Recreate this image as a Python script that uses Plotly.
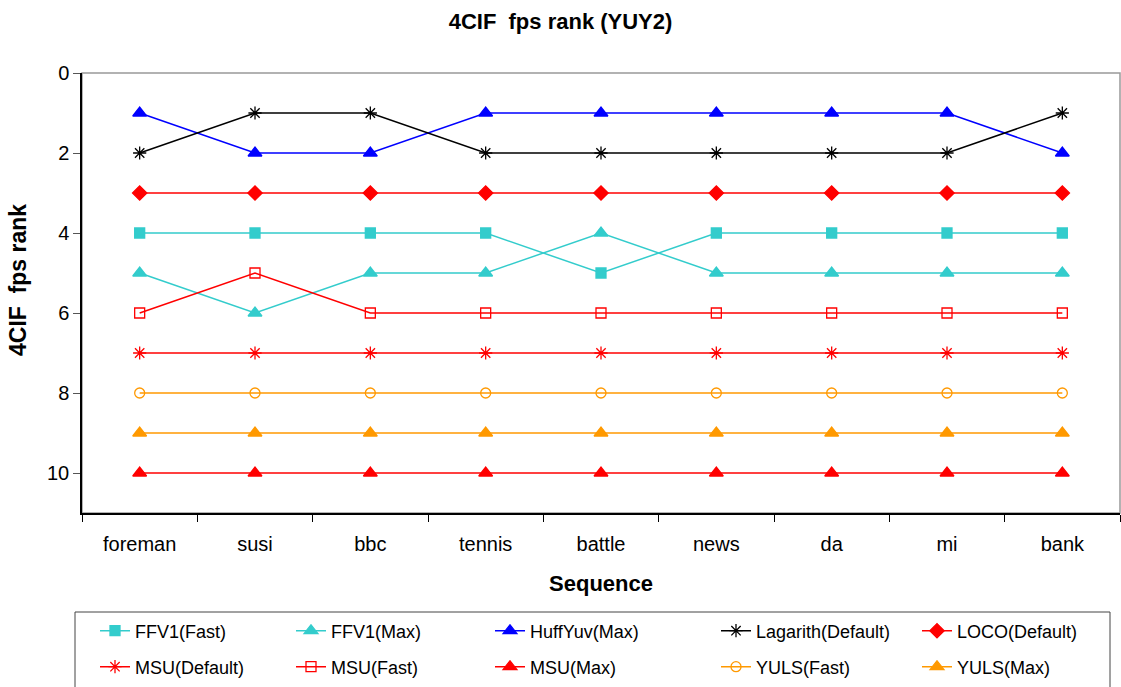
import plotly.graph_objects as go

categories = ["foreman", "susi", "bbc", "tennis", "battle", "news", "da", "mi", "bank"]

ffv1_fast = [4, 4, 4, 4, 5, 4, 4, 4, 4]
ffv1_max = [5, 6, 5, 5, 4, 5, 5, 5, 5]
huffyuv_max = [1, 2, 2, 1, 1, 1, 1, 1, 2]
lagarith_default = [2, 1, 1, 2, 2, 2, 2, 2, 1]
loco_default = [3, 3, 3, 3, 3, 3, 3, 3, 3]
msu_default = [7, 7, 7, 7, 7, 7, 7, 7, 7]
msu_fast = [6, 5, 6, 6, 6, 6, 6, 6, 6]
msu_max = [10, 10, 10, 10, 10, 10, 10, 10, 10]
yuls_fast = [8, 8, 8, 8, 8, 8, 8, 8, 8]
yuls_max = [9, 9, 9, 9, 9, 9, 9, 9, 9]

CYAN = "#33CCCC"
BLUE = "#0000FF"
BLACK = "#000000"
RED = "#FF0000"
ORANGE = "#FF9900"

series = [
    ("FFV1(Fast)", ffv1_fast, CYAN, "square", 10),
    ("FFV1(Max)", ffv1_max, CYAN, "triangle-up", 12),
    ("HuffYuv(Max)", huffyuv_max, BLUE, "triangle-up", 12),
    ("Lagarith(Default)", lagarith_default, BLACK, "asterisk-open", 11),
    ("LOCO(Default)", loco_default, RED, "diamond", 11),
    ("MSU(Default)", msu_default, RED, "asterisk-open", 11),
    ("MSU(Fast)", msu_fast, RED, "square-open", 10),
    ("MSU(Max)", msu_max, RED, "triangle-up", 12),
    ("YULS(Fast)", yuls_fast, ORANGE, "circle-open", 10),
    ("YULS(Max)", yuls_max, ORANGE, "triangle-up", 12),
]

# layout geometry (pixels)
W, H = 1121, 687
L, R, T, B = 82, 1, 73, 174
PW, PH = W - L - R, H - T - B

FONT = "Liberation Sans, Arial, sans-serif"

# legend text x positions and row centers (px) in the reference
text_x = [136, 332, 531, 757, 958]
row_y = [631, 667]

fig = go.Figure()
legends = {}
for i, (name, vals, color, sym, size) in enumerate(series):
    key = "legend" if i == 0 else f"legend{i + 1}"
    fig.add_trace(go.Scatter(
        x=categories, y=vals, name=name, mode="lines+markers",
        line=dict(color=color, width=1.5),
        marker=dict(symbol=sym, size=size, color=color,
                    line=dict(color=color, width=1.3)),
        legend=key,
    ))
    col, row = i % 5, i // 5
    lx = (text_x[col] - 41 - L) / PW
    ly = (H - B - row_y[row]) / PH
    legends[key] = dict(x=lx, xanchor="left", y=ly, yanchor="middle",
                        bgcolor="rgba(0,0,0,0)", borderwidth=0,
                        font=dict(size=18, family=FONT))

# outer plot frame (grey top/right like the original)
fig.add_shape(type="rect", xref="paper", yref="paper", x0=0, y0=0, x1=1, y1=1,
              line=dict(color="#999999", width=1.5), layer="below")
# legend box
fig.add_shape(type="rect", xref="paper", yref="paper",
              x0=(75 - L) / PW, x1=(1110 - L) / PW,
              y0=(H - B - 700) / PH, y1=(H - B - 612) / PH,
              line=dict(color="#444444", width=1), fillcolor="white", layer="below")

# y-axis title (placed as in the original, slightly above plot centre)
fig.add_annotation(
    text="<b>4CIF\u00a0\u00a0fps rank</b>", textangle=-90, showarrow=False,
    xref="paper", yref="paper", x=(18 - L) / PW, y=(H - B - 280) / PH,
    xanchor="center", yanchor="middle", font=dict(size=23, family=FONT),
)

fig.update_layout(
    width=W, height=H,
    margin=dict(l=L, r=R, t=T, b=B),
    paper_bgcolor="white", plot_bgcolor="white",
    font=dict(family=FONT, color="black"),
    title=dict(text="<b>4CIF\u00a0 fps rank (YUY2)</b>", x=0.5, xanchor="center",
               y=1 - 21 / H, yanchor="middle", font=dict(size=22, family=FONT)),
    showlegend=True,
    **legends,
)
fig.update_xaxes(
    type="category", tickson="boundaries", ticks="outside", ticklen=7,
    tickcolor="#000", showline=True, linecolor="black", linewidth=1.5,
    showgrid=False, tickfont=dict(size=20), range=[-0.5, 8.5], automargin=False,
    ticklabelstandoff=12,
    title=dict(text="<b>Sequence</b>", font=dict(size=22), standoff=22),
)
fig.update_yaxes(
    range=[11, 0], tickvals=[0, 2, 4, 6, 8, 10], ticks="outside", ticklen=7,
    tickcolor="#555", showline=True, linecolor="black", linewidth=1.5,
    showgrid=False, zeroline=False, tickfont=dict(size=20), automargin=False,
)

fig.write_html(
    "out.html",
    config={"displayModeBar": False},
    post_script="document.body.style.margin='0';document.body.style.overflow='hidden';",
)
